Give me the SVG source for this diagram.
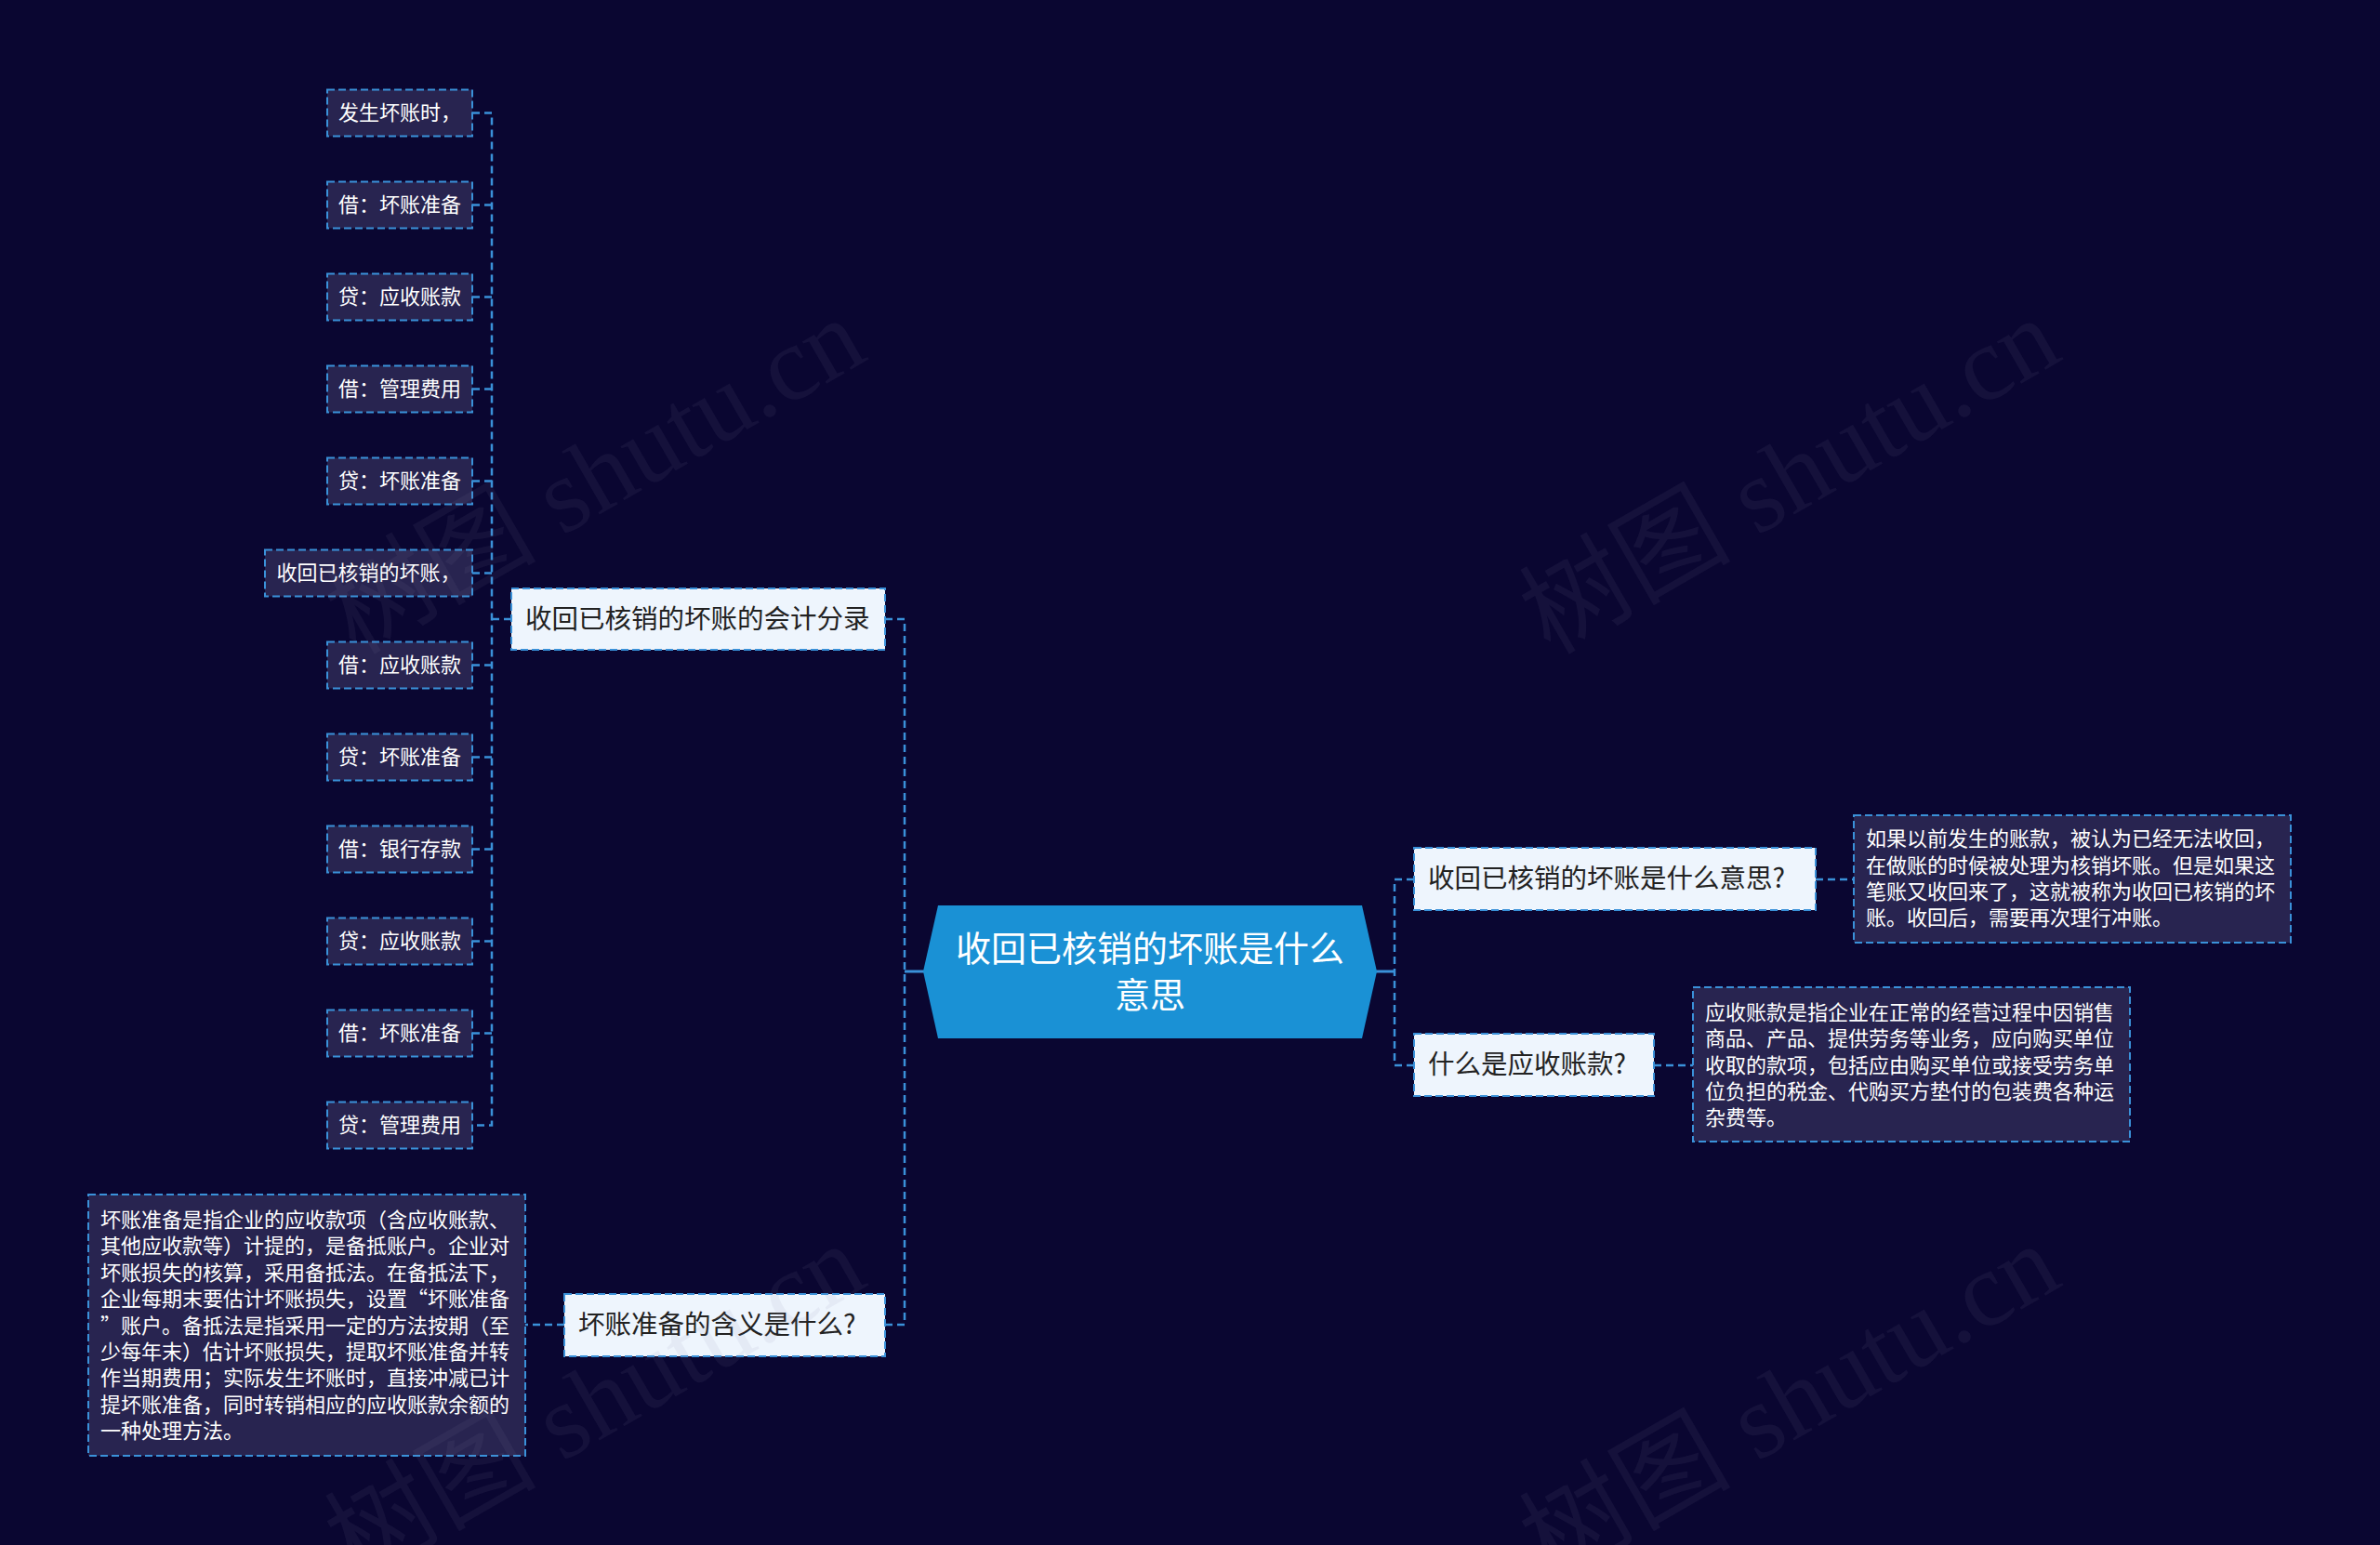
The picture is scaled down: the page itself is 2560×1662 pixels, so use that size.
<svg xmlns="http://www.w3.org/2000/svg" width="2560" height="1662" viewBox="0 0 2560 1662">
<style>
text{font-family:"Noto Sans CJK SC","Noto Sans",sans-serif;dominant-baseline:central}
.conn{fill:none;stroke:#3a91d9;stroke-width:2.5;stroke-dasharray:8 5}
.solid{fill:none;stroke:#3a91d9;stroke-width:3}
.leaf rect{fill:#282450;stroke:#3a91d9;stroke-width:2;stroke-dasharray:8 4}
.leaf text{fill:#ffffff;font-size:22px;transform:translateY(-3px)}
.main rect{fill:#eef5fd;stroke:#3a91d9;stroke-width:2;stroke-dasharray:8 4}
.main text{fill:#222222;font-size:28.5px;transform:translateY(-3px)}
#root text{transform:translateY(-3px)}
.sl text{text-anchor:middle}
.wm{font-family:"Liberation Serif","Noto Sans CJK SC",serif;font-size:114px;fill:#8a86a8;fill-opacity:0.09;text-anchor:middle}
</style>
<rect width="2560" height="1662" fill="#0a0631"/>

<g id="connectors">
<path class="conn" d="M508,121.5H529V1210.5H508"/>
<path class="conn" d="M508,220.5H529M508,319.5H529M508,418.5H529M508,517.5H529M508,616.5H529M508,715.5H529M508,814.5H529M508,913.5H529M508,1012.5H529M508,1111.5H529"/>
<path class="conn" d="M529,666H550"/>
<path class="conn" d="M952,666H973V1425H952"/>
<path class="conn" d="M607,1425H565"/>
<path class="conn" d="M1521,946H1500V1146H1521"/>
<path class="conn" d="M1953,946H1994"/>
<path class="conn" d="M1779,1146H1821"/>
<path class="solid" d="M973,1045H994M1480,1045H1500"/>
</g>

<g id="root">
<polygon points="993,1045 1009,974 1465,974 1481,1045 1465,1117 1009,1117" fill="#1a91d5"/>
<text x="1237" y="1020" fill="#ffffff" font-size="38" text-anchor="middle">收回已核销的坏账是什么</text>
<text x="1237" y="1070" fill="#ffffff" font-size="38" text-anchor="middle">意思</text>
</g>

<g id="n-l1" class="main">
<rect x="550" y="633" width="402" height="66"/>
<text x="565" y="666">收回已核销的坏账的会计分录</text>
</g>
<g id="n-l2" class="main">
<rect x="607" y="1392" width="345" height="67"/>
<text x="622" y="1425.5">坏账准备的含义是什么?</text>
</g>
<g id="n-r1" class="main">
<rect x="1521" y="912" width="432" height="67"/>
<text x="1536" y="945.5">收回已核销的坏账是什么意思?</text>
</g>
<g id="n-r2" class="main">
<rect x="1521" y="1112" width="258" height="67"/>
<text x="1536" y="1145.5">什么是应收账款?</text>
</g>

<g id="leaf-r1" class="leaf">
<rect x="1994" y="877" width="470" height="137"/>
<text x="2007" y="903">如果以前发生的账款，被认为已经无法收回，</text>
<text x="2007" y="932">在做账的时候被处理为核销坏账。但是如果这</text>
<text x="2007" y="960">笔账又收回来了，这就被称为收回已核销的坏</text>
<text x="2007" y="988">账。收回后，需要再次理行冲账。</text>
</g>
<g id="leaf-r2" class="leaf">
<rect x="1821" y="1062" width="470" height="166"/>
<text x="1834" y="1090">应收账款是指企业在正常的经营过程中因销售</text>
<text x="1834" y="1118">商品、产品、提供劳务等业务，应向购买单位</text>
<text x="1834" y="1147">收取的款项，包括应由购买单位或接受劳务单</text>
<text x="1834" y="1175">位负担的税金、代购买方垫付的包装费各种运</text>
<text x="1834" y="1203">杂费等。</text>
</g>
<g id="leaf-l2" class="leaf">
<rect x="95" y="1285" width="470" height="281"/>
<text x="108" y="1313">坏账准备是指企业的应收款项（含应收账款、</text>
<text x="108" y="1341.4">其他应收款等）计提的，是备抵账户。企业对</text>
<text x="108" y="1369.8">坏账损失的核算，采用备抵法。在备抵法下，</text>
<text x="108" y="1398.2">企业每期末要估计坏账损失，设置“坏账准备</text>
<text x="108" y="1426.6">”账户。备抵法是指采用一定的方法按期（至</text>
<text x="108" y="1455">少每年末）估计坏账损失，提取坏账准备并转</text>
<text x="108" y="1483.4">作当期费用；实际发生坏账时，直接冲减已计</text>
<text x="108" y="1511.8">提坏账准备，同时转销相应的应收账款余额的</text>
<text x="108" y="1540.2">一种处理方法。</text>
</g>

<g id="leaf-1" class="leaf sl"><rect x="352" y="96.5" width="156" height="50"/><text x="430" y="121.5">发生坏账时，</text></g>
<g id="leaf-2" class="leaf sl"><rect x="352" y="195.5" width="156" height="50"/><text x="430" y="220.5">借：坏账准备</text></g>
<g id="leaf-3" class="leaf sl"><rect x="352" y="294.5" width="156" height="50"/><text x="430" y="319.5">贷：应收账款</text></g>
<g id="leaf-4" class="leaf sl"><rect x="352" y="393.5" width="156" height="50"/><text x="430" y="418.5">借：管理费用</text></g>
<g id="leaf-5" class="leaf sl"><rect x="352" y="492.5" width="156" height="50"/><text x="430" y="517.5">贷：坏账准备</text></g>
<g id="leaf-6" class="leaf sl"><rect x="285" y="591.5" width="223" height="50"/><text x="396.5" y="616.5">收回已核销的坏账，</text></g>
<g id="leaf-7" class="leaf sl"><rect x="352" y="690.5" width="156" height="50"/><text x="430" y="715.5">借：应收账款</text></g>
<g id="leaf-8" class="leaf sl"><rect x="352" y="789.5" width="156" height="50"/><text x="430" y="814.5">贷：坏账准备</text></g>
<g id="leaf-9" class="leaf sl"><rect x="352" y="888.5" width="156" height="50"/><text x="430" y="913.5">借：银行存款</text></g>
<g id="leaf-10" class="leaf sl"><rect x="352" y="987.5" width="156" height="50"/><text x="430" y="1012.5">贷：应收账款</text></g>
<g id="leaf-11" class="leaf sl"><rect x="352" y="1086.5" width="156" height="50"/><text x="430" y="1111.5">借：坏账准备</text></g>
<g id="leaf-12" class="leaf sl"><rect x="352" y="1185.5" width="156" height="50"/><text x="430" y="1210.5">贷：管理费用</text></g>

<g id="watermarks">
<text class="wm" transform="translate(640,512) rotate(-30)">树图 shutu.cn</text>
<text class="wm" transform="translate(1925,512) rotate(-30)">树图 shutu.cn</text>
<text class="wm" transform="translate(640,1508) rotate(-30)">树图 shutu.cn</text>
<text class="wm" transform="translate(1925,1508) rotate(-30)">树图 shutu.cn</text>
</g>
</svg>
